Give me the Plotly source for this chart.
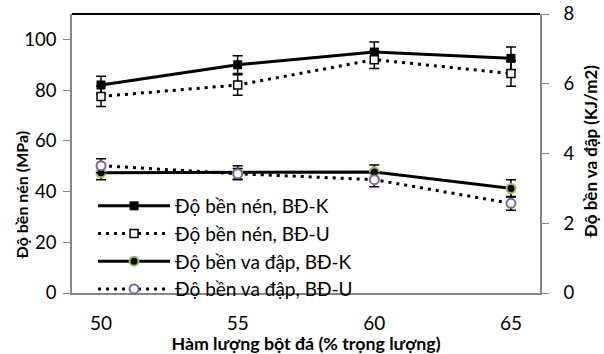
import plotly.graph_objects as go

# Hàm lượng bột đá (% trọng lượng)
categories = ["50", "55", "60", "65"]

# Độ bền nén (MPa)
nen_K = [82, 90, 95, 92.5]
nen_K_err = [3.5, 3.5, 4, 4.5]
nen_U = [77.5, 82, 92, 86.5]
nen_U_err = [4, 4, 3.5, 5]

# Độ bền va đập (KJ/m2)
vadap_K = [3.45, 3.45, 3.47, 3.0]
vadap_K_err = [0.2, 0.2, 0.2, 0.25]
vadap_U = [3.65, 3.42, 3.25, 2.57]
vadap_U_err = [0.2, 0.15, 0.2, 0.2]

FONT = "Lato"
GRAY = "#868686"
DOTS = "3px,5px"

def err(vals):
    return dict(type="data", array=vals, visible=True, color="black",
                thickness=1.5, width=5)

fig = go.Figure()
fig.add_trace(go.Scatter(
    x=categories, y=nen_K, name="Độ bền nén, BĐ-K", mode="lines+markers",
    line=dict(color="black", width=3),
    marker=dict(symbol="square", size=9, color="black"),
    error_y=err(nen_K_err)))
fig.add_trace(go.Scatter(
    x=categories, y=nen_U, name="Độ bền nén, BĐ-U", mode="lines+markers",
    line=dict(color="black", width=3, dash=DOTS),
    marker=dict(symbol="square", size=8, color="white",
                line=dict(color="black", width=1.5)),
    error_y=err(nen_U_err)))
fig.add_trace(go.Scatter(
    x=categories, y=vadap_K, name="Độ bền va đập, BĐ-K", mode="lines+markers",
    yaxis="y2",
    line=dict(color="black", width=3),
    marker=dict(symbol="circle", size=9, color="black",
                line=dict(color="#9BBB59", width=2)),
    error_y=err(vadap_K_err)))
fig.add_trace(go.Scatter(
    x=categories, y=vadap_U, name="Độ bền va đập, BĐ-U", mode="lines+markers",
    yaxis="y2",
    line=dict(color="black", width=3, dash=DOTS),
    marker=dict(symbol="circle", size=9, color="white",
                line=dict(color="#8064A2", width=2)),
    error_y=err(vadap_U_err)))

fig.update_layout(
    width=604, height=354,
    margin=dict(l=72, r=64, t=14, b=61, autoexpand=False),
    paper_bgcolor="white", plot_bgcolor="white",
    font=dict(family=FONT, size=19, color="black"),
    showlegend=True,
    legend=dict(x=0.045, y=0.38, xanchor="left", yanchor="top",
                bgcolor="rgba(0,0,0,0)", itemwidth=72,
                font=dict(family=FONT, size=19, color="black"),
                tracegroupgap=0),
    xaxis=dict(type="category", showline=True, linecolor=GRAY, linewidth=1.5,
               ticks="", showgrid=False, zeroline=False, automargin=False,
               tickfont=dict(size=19), ticklabelstandoff=12,
               title=dict(text="<b>Hàm lượng bột đá (% trọng lượng)</b>",
                          font=dict(size=17.8), standoff=4)),
    yaxis=dict(range=[0, 110], tickvals=[0, 20, 40, 60, 80, 100],
               showline=True, linecolor=GRAY, linewidth=1.5, automargin=False,
               ticks="outside", ticklen=7, tickcolor=GRAY,
               ticklabelstandoff=3,
               showgrid=False, zeroline=False, tickfont=dict(size=18.5)),
    yaxis2=dict(range=[0, 8], tickvals=[0, 2, 4, 6, 8], overlaying="y",
                side="right", showline=True, linecolor=GRAY, linewidth=1.5,
                automargin=False, ticks="outside", ticklen=7, tickcolor=GRAY,
                ticklabelstandoff=11,
                showgrid=False, zeroline=False, tickfont=dict(size=18.5)),
    shapes=[dict(type="line", xref="paper", yref="paper", x0=0, x1=1,
                 y0=1, y1=1, line=dict(color="black", width=2))],
    annotations=[
        dict(text="<b>Độ bền nén (MPa)</b>", textangle=-90,
             xref="paper", yref="paper", x=-0.108, y=0.351,
             xanchor="center", yanchor="middle", showarrow=False,
             font=dict(size=16)),
        dict(text="<b>Độ bền va đập (KJ/m2)</b>", textangle=-90,
             xref="paper", yref="paper", x=1.107, y=0.505,
             xanchor="center", yanchor="middle", showarrow=False,
             font=dict(size=17)),
    ],
)

fig.write_html("out.html")
